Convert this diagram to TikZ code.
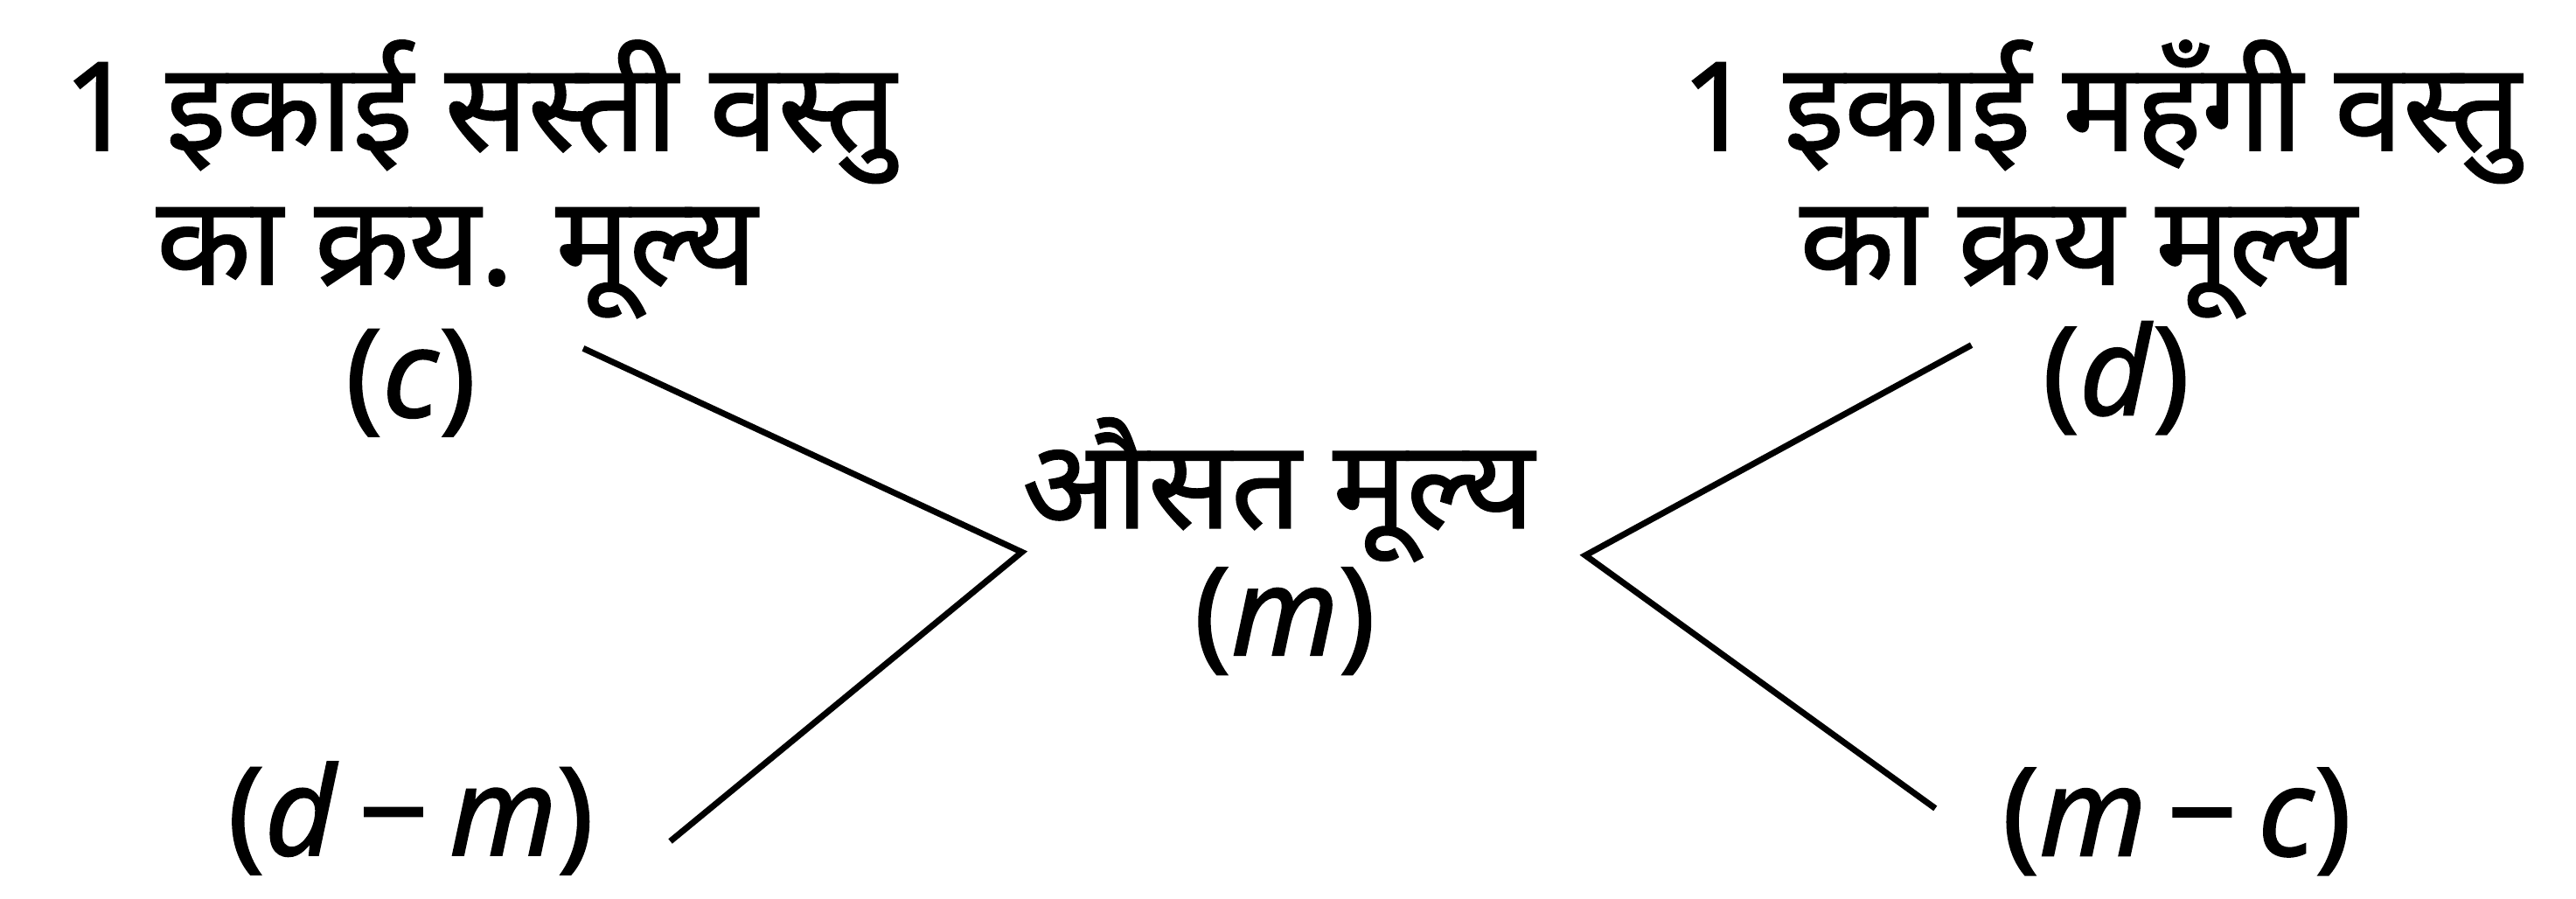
\documentclass[tikz,border=0pt]{standalone}
\usepackage{fontspec}
\setmainfont{Noto Sans}[Script=Devanagari, FakeBold=1.3]
\usepackage{tikz}

\begin{document}
\begin{tikzpicture}[x=0.1879mm, y=-0.1879mm, font=\fontsize{40}{46}\selectfont]
\useasboundingbox (0,0) rectangle (1568,547);
\coordinate (C1) at (355,212);
\coordinate (M1) at (622,336);
\coordinate (D1) at (408,512);
\coordinate (D2) at (1200,210);
\coordinate (M2) at (965,338);
\coordinate (C2) at (1178,492);
\draw[line width=2pt] (C1) -- (M1) -- (D1);
\draw[line width=2pt] (D2) -- (M2) -- (C2);
\node (cheapA) at (292,68) {1 इकाई सस्ती वस्तु};
\node (cheapB) at (278,160) {का क्रय. मूल्य};
\node (cheapC) at (250,233) {(\textit{c})};
\node (avgA) at (778,298) {औसत मूल्य};
\node (avgB) at (782,378) {(\textit{m})};
\node (dearA) at (1279,68) {1 इकाई महँगी वस्तु};
\node (dearB) at (1265,160) {का क्रय मूल्य};
\node (dearC) at (1288,230) {(\textit{d})};
\node (dm) at (250,498) {(\textit{d}\,−\,\textit{m})};
\node (mc) at (1325,500) {(\textit{m}\,−\,\textit{c})};
\end{tikzpicture}
\end{document}
